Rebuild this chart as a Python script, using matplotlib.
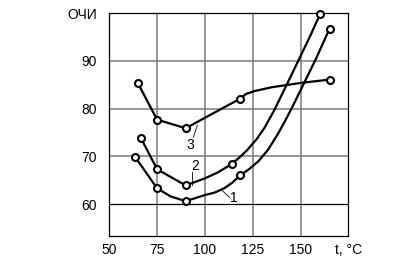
import matplotlib.pyplot as plt

plt.switch_backend("Agg")
plt.rcParams["font.family"] = ["Liberation Sans", "DejaVu Sans"]

# axis ticks (last tick carries the axis title, as in the original)
x_ticks = [50, 75, 100, 125, 150, 175]
x_tick_labels = ["50", "75", "100", "125", "150", "t, °C"]
y_ticks = [60, 70, 80, 90, 100]
y_tick_labels = ["60", "70", "80", "90", "ОЧИ"]

# measured points (circles)
c1_x = [63.4, 74.9, 89.9, 118.4, 165.2]
c1_y = [69.9, 63.3, 60.6, 66.0, 96.8]
c2_x = [66.5, 74.9, 89.9, 114.0, 160.3]
c2_y = [73.8, 67.3, 63.9, 68.4, 99.9]
c3_x = [64.8, 74.9, 89.9, 118.4, 165.2]
c3_y = [85.4, 77.7, 75.9, 82.1, 86.1]

# hand-drawn curve traces
c1_line_x = [63.4, 74.9, 82.0, 89.9, 100.0, 105.0, 110.0, 114.0, 118.4,
             123.0, 128.0, 133.0, 138.0, 142.0, 146.0, 152.0, 158.0, 165.2]
c1_line_y = [69.9, 63.3, 61.6, 60.6, 61.9, 62.4, 63.3, 64.4, 66.0,
             67.3, 69.0, 71.4, 74.6, 77.5, 80.6, 85.5, 90.4, 96.8]
c2_line_x = [66.5, 74.9, 89.9, 100.0, 107.0, 114.0, 118.4, 122.0, 127.0,
             131.0, 136.0, 142.0, 149.0, 155.0, 160.3]
c2_line_y = [73.8, 67.3, 63.9, 65.4, 66.7, 68.4, 69.9, 71.3, 73.6,
             75.9, 79.5, 84.4, 90.2, 95.2, 99.9]
c3_line_x = [64.8, 74.9, 89.9, 118.4, 121.5, 126.0, 135.0, 150.0, 165.2]
c3_line_y = [85.4, 77.7, 75.9, 82.1, 83.1, 83.7, 84.5, 85.4, 86.1]

# curve labels: (text, label position, leader start, leader end)
curve_labels = [
    ("3", (92.5, 72.4), (93.9, 74.0), (96.0, 76.5)),
    ("2", (94.8, 68.0), (93.4, 66.8), (93.4, 64.0)),
    ("1", (114.9, 61.2), (112.8, 61.4), (108.8, 62.9)),
]

fig = plt.figure(figsize=(3.95, 2.79), dpi=100)
ax = fig.add_axes([0.2772, 0.1541, 0.6046, 0.7982])
ax.set_xlim(50, 175)
ax.set_ylim(53.3, 100)

for xv in x_ticks[1:-1]:
    ax.axvline(xv, color="#7a7a7a", lw=1.1, zorder=1)
for yv in y_ticks[:-1]:
    if yv == 60:
        ax.axhline(yv, color="black", lw=0.9, zorder=1)
    else:
        ax.axhline(yv, color="#7a7a7a", lw=1.1, zorder=1)

for lx, ly in [(c1_line_x, c1_line_y), (c2_line_x, c2_line_y), (c3_line_x, c3_line_y)]:
    ax.plot(lx, ly, color="black", lw=1.6, zorder=3, clip_on=False,
            solid_joinstyle="round")
for mx, my in [(c1_x, c1_y), (c2_x, c2_y), (c3_x, c3_y)]:
    ax.plot(mx, my, ls="none", marker="o", ms=5, mfc="white", mec="black",
            mew=1.5, zorder=4, clip_on=False)

for text, pos, start, end in curve_labels:
    ax.text(pos[0], pos[1], text, ha="center", va="center", fontsize=10, zorder=5)
    ax.plot([start[0], end[0]], [start[1], end[1]], color="black", lw=0.6, zorder=5)

ax.set_xticks(x_ticks)
ax.set_xticklabels(x_tick_labels)
ax.set_yticks(y_ticks)
ax.set_yticklabels(y_tick_labels)
ax.tick_params(axis="both", length=0, labelsize=10)
ax.tick_params(axis="x", pad=5)
ax.tick_params(axis="y", pad=9)
for side in ax.spines.values():
    side.set_linewidth(0.9)
    side.set_color("black")

fig.savefig("out.png", dpi=100)
